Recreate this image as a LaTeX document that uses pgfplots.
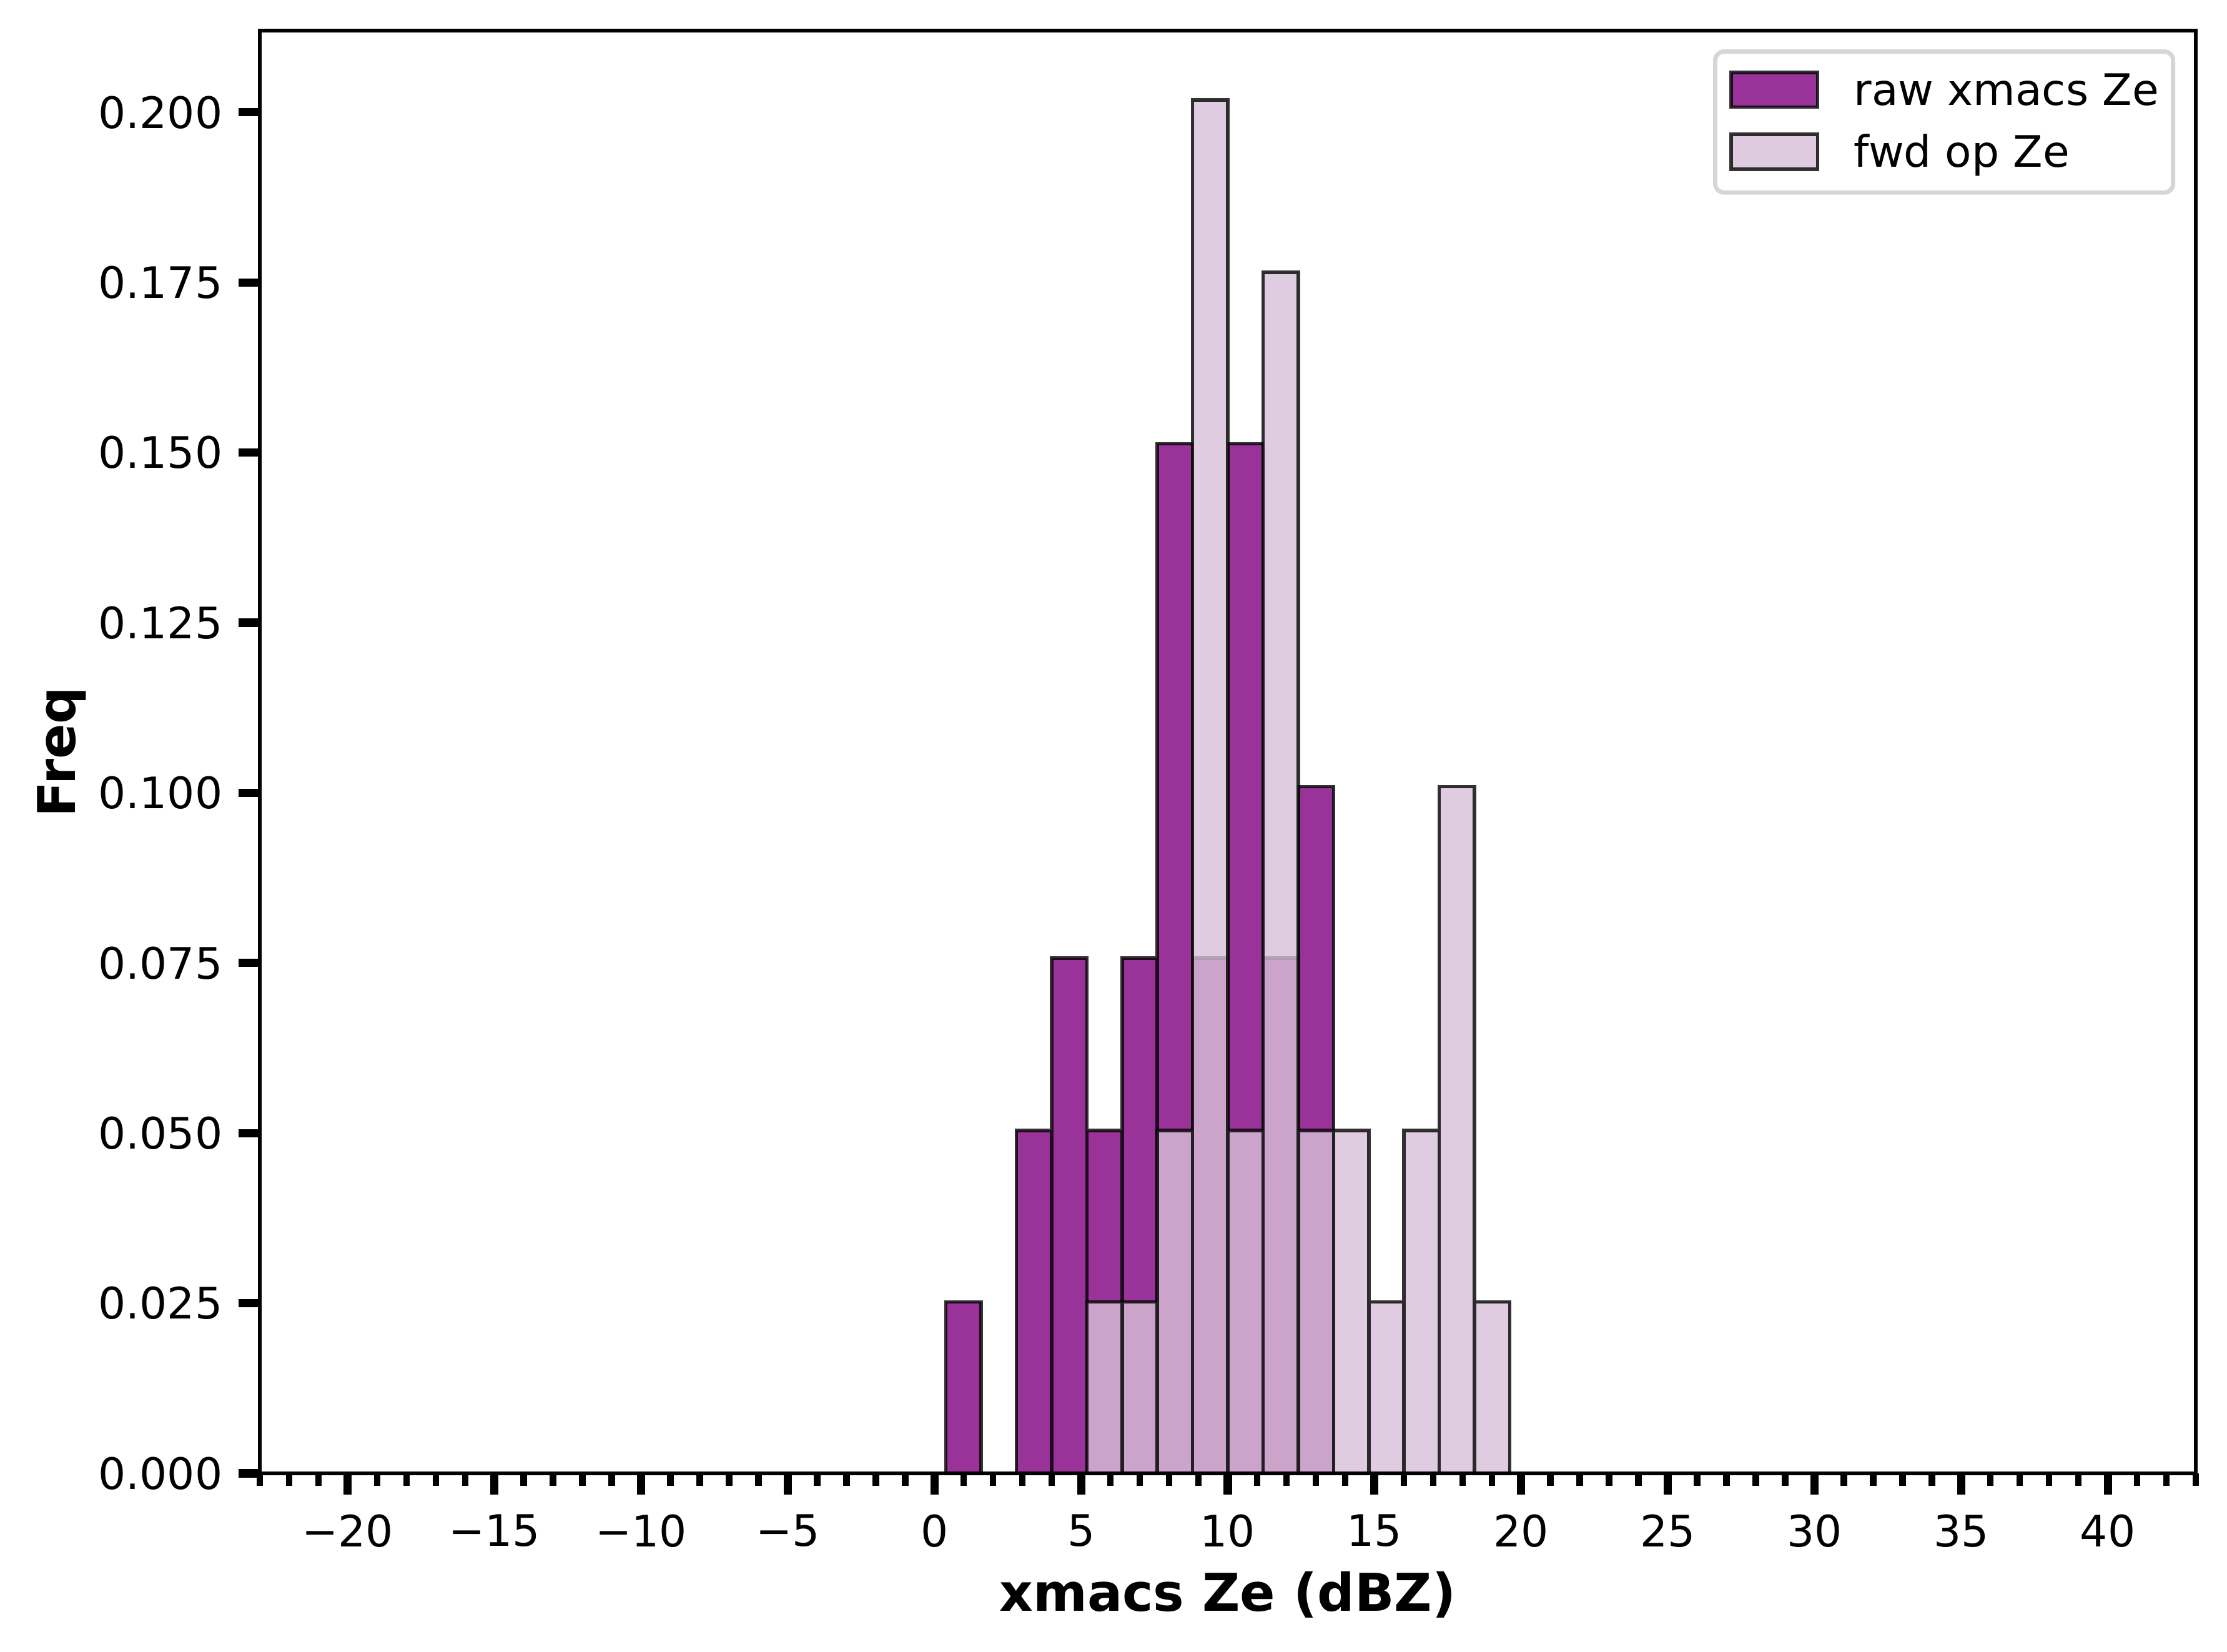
\documentclass[border=0pt]{standalone}
\usepackage{fontspec}
\setmainfont{DejaVu Sans}
\usepackage{pgfplots}
\pgfplotsset{compat=1.18}
\definecolor{rawc}{RGB}{128,0,128}
\definecolor{fwdc}{RGB}{216,191,216}
\definecolor{legframe}{RGB}{214,214,214}
\begin{document}
\begin{tikzpicture}
\begin{axis}[name=ax, scale only axis, width=446.4pt, height=332.64pt,
  xmin=-23, xmax=43, ymin=0, ymax=0.212,
  axis on top,
  axis line style={line width=0.8pt, black},
  tick align=outside, xtick pos=bottom, ytick pos=left,
  xtick={-20,-15,-10,-5,0,5,10,15,20,25,30,35,40},
  xticklabels={−20,−15,−10,−5,0,5,10,15,20,25,30,35,40},
  minor xtick={-23,-22,...,43},
  ytick={0,0.025,0.05,0.075,0.1,0.125,0.15,0.175,0.2},
  yticklabels={0.000,0.025,0.050,0.075,0.100,0.125,0.150,0.175,0.200},
  major tick length=4.9pt, minor tick length=2.9pt,
  major tick style={line width=1.9pt, black},
  minor tick style={line width=1.5pt, black},
  /pgf/number format/assume math mode=true,
  tick label style={font=\fontsize{10}{12}\selectfont, inner sep=0pt},
  xticklabel shift=4.4pt, yticklabel shift=3.5pt,
  xlabel={xmacs Ze (dBZ)}, ylabel={Freq},
  label style={font=\fontsize{12}{14}\selectfont\bfseries},
  xlabel style={at={(axis description cs:0.5,-0.0953)}, anchor=base},
  ylabel style={at={(axis description cs:-0.0952,0.5)}, anchor=base},
  legend image code/.code={\draw[#1, sharp corners] (0pt,-0.4pt) rectangle (19.9pt,7.6pt);},
  legend cell align=left,
  legend style={at={(axis description cs:0.9894,0.987)}, anchor=north east,
    draw=legframe, line width=1pt, rounded corners=2pt, fill=white,
    inner xsep=3.3pt, inner ysep=4.4pt, row sep=4.9pt, column sep=8pt,
    font=\fontsize{10}{12}\selectfont,
    nodes={inner sep=0pt, text height=8.0pt, text depth=1.4pt, anchor=base west}},
]
\addplot[ybar interval, fill=rawc, fill opacity=0.8, draw=black, draw opacity=0.8, line width=0.8pt]
coordinates {(0.390,0.0252) (1.5915,0) (2.793,0.0504) (3.9945,0.0757) (5.196,0.0504) (6.3975,0.0757) (7.599,0.1513) (8.8005,0.0757) (10.002,0.1513) (11.2035,0.0757) (12.405,0.1009) (13.6065,0)};
\addlegendentry{raw xmacs Ze}
\addplot[ybar interval, fill=fwdc, fill opacity=0.8, draw=black, draw opacity=0.8, line width=0.8pt]
coordinates {(5.196,0.0252) (6.3975,0.0252) (7.599,0.0504) (8.8005,0.2018) (10.002,0.0504) (11.2035,0.1765) (12.405,0.0504) (13.6065,0.0504) (14.808,0.0252) (16.0095,0.0504) (17.211,0.1009) (18.4125,0.0252) (19.614,0)};
\addlegendentry{fwd op Ze}
\end{axis}
\pgfresetboundingbox
\path ([shift={(-59.9pt,-41.04pt)}]ax.south west) rectangle ([shift={(7.2pt,7.06pt)}]ax.north east);
\end{tikzpicture}
\end{document}
